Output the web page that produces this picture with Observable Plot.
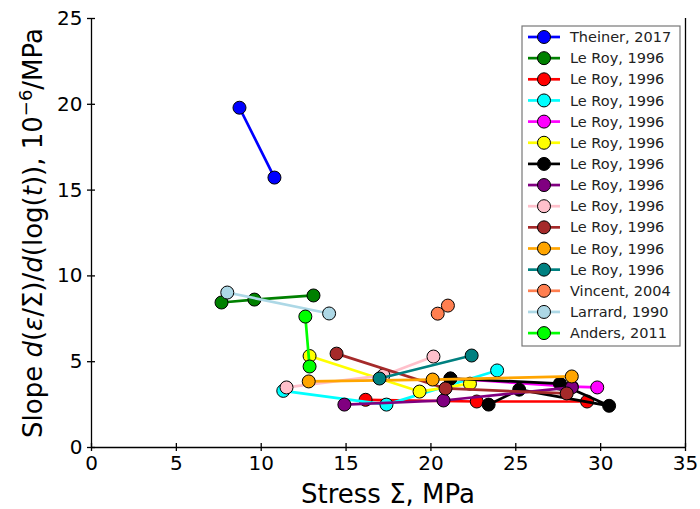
<!DOCTYPE html>
<html>
<head>
<meta charset="utf-8">
<script src="https://cdn.jsdelivr.net/npm/d3@7"></script>
<script src="https://cdn.jsdelivr.net/npm/@observablehq/plot@0.6"></script>
<style>
  html, body { margin: 0; padding: 0; background: #fff; }
  #chart { width: 700px; height: 509px; }
  svg { font-family: "DejaVu Sans", sans-serif; }
</style>
</head>
<body>
<div id="chart"></div>
<script>
const seriesLabels = [
  "Theiner, 2017", "Le Roy, 1996", "Le Roy, 1996", "Le Roy, 1996", "Le Roy, 1996",
  "Le Roy, 1996", "Le Roy, 1996", "Le Roy, 1996", "Le Roy, 1996", "Le Roy, 1996",
  "Le Roy, 1996", "Le Roy, 1996", "Vincent, 2004", "Larrard, 1990", "Anders, 2011"
];
const seriesColors = [
  "blue", "green", "red", "cyan", "magenta", "yellow", "black", "purple",
  "pink", "brown", "orange", "teal", "coral", "lightblue", "lime"
];
const stressValues = [
  [8.72, 10.78],
  [7.66, 9.6, 13.08],
  [16.15, 22.7, 29.2],
  [11.3, 17.38, 23.9],
  [21.15, 28.3, 29.8],
  [12.85, 19.33, 22.3],
  [23.4, 25.2, 30.5, 27.6, 21.15],
  [14.9, 20.74, 28.3],
  [11.49, 17.2, 20.15],
  [14.44, 20.86, 28.0],
  [12.8, 20.1, 28.3],
  [16.97, 22.4],
  [20.4, 21.0],
  [8.0, 14.0],
  [12.6, 12.85]
];
const slopeValues = [
  [19.8, 15.73],
  [8.45, 8.62, 8.86],
  [2.78, 2.68, 2.68],
  [3.3, 2.5, 4.49],
  [4.02, 3.55, 3.5],
  [5.33, 3.26, 3.72],
  [2.5, 3.37, 2.43, 3.72, 4.02],
  [2.5, 2.74, 3.5],
  [3.5, 4.2, 5.3],
  [5.47, 3.44, 3.15],
  [3.85, 3.96, 4.14],
  [4.02, 5.36],
  [7.8, 8.27],
  [9.03, 7.81],
  [7.63, 4.72]
];
const xTicks = [0, 5, 10, 15, 20, 25, 30, 35];
const yTicks = [0, 5, 10, 15, 20, 25];

const marks = [];
seriesLabels.forEach((lab, i) => {
  const pts = stressValues[i].map((x, j) => ({x, y: slopeValues[i][j]}));
  marks.push(Plot.line(pts, {x: "x", y: "y", stroke: seriesColors[i], strokeWidth: 2.7}));
  marks.push(Plot.dot(pts, {x: "x", y: "y", r: 6.5, fill: seriesColors[i], stroke: "black", strokeWidth: 1, fillOpacity: 1}));
});

const plot = Plot.plot({
  width: 700,
  height: 509,
  marginLeft: 91,
  marginRight: 15,
  marginTop: 18,
  marginBottom: 62,
  style: {fontFamily: "DejaVu Sans, sans-serif", fontSize: "20px", color: "#000", background: "#fff", overflow: "visible"},
  x: {domain: [0, 35]},
  y: {domain: [0, 25]},
  marks: [
    ...marks,
    Plot.ruleY([0], {stroke: "black", strokeWidth: 1.3}),
    Plot.ruleX([0], {stroke: "black", strokeWidth: 1.3}),
    Plot.ruleX([35], {stroke: "black", strokeWidth: 1.3}),
    Plot.axisX(xTicks, {tickSize: 8, dy: -4, text: null, label: null, strokeWidth: 1.3}),
    Plot.axisX(xTicks, {tickSize: 0, tickPadding: 8, label: null, fontSize: 20, fill: "#000"}),
    Plot.axisY(yTicks, {tickSize: 8, dx: 4, text: null, label: null, strokeWidth: 1.3}),
    Plot.axisY(yTicks, {tickSize: 0, tickPadding: 9, label: null, fontSize: 20, fill: "#000"})
  ]
});
document.getElementById("chart").appendChild(plot);

const svg = d3.select(plot);
// axis labels
svg.append("text")
  .attr("x", 388).attr("y", 503)
  .attr("text-anchor", "middle")
  .attr("font-size", 26).attr("fill", "#000")
  .text("Stress Σ, MPa");

const yl = svg.append("text")
  .attr("transform", "translate(42,233) rotate(-90)")
  .attr("text-anchor", "middle")
  .attr("font-size", 26).attr("fill", "#000");
yl.append("tspan").text("Slope ");
yl.append("tspan").attr("font-style", "italic").text("d");
yl.append("tspan").text("(");
yl.append("tspan").attr("font-style", "italic").text("ε");
yl.append("tspan").text("/Σ)/");
yl.append("tspan").attr("font-style", "italic").text("d");
yl.append("tspan").text("(log(");
yl.append("tspan").attr("font-style", "italic").text("t");
yl.append("tspan").text(")), 10");
yl.append("tspan").attr("dy", -10).attr("font-size", 18).text("−6");
yl.append("tspan").attr("dy", 10).text("/MPa");

// legend
const lg = svg.append("g").attr("transform", "translate(522,26)");
lg.append("rect").attr("x", 0).attr("y", 0).attr("width", 158).attr("height", 320)
  .attr("fill", "#fff").attr("stroke", "#777").attr("stroke-width", 1.2);
seriesLabels.forEach((lab, i) => {
  const cy = 11 + i * 21.15;
  lg.append("line").attr("x1", 6).attr("x2", 38).attr("y1", cy).attr("y2", cy)
    .attr("stroke", seriesColors[i]).attr("stroke-width", 2.7);
  lg.append("circle").attr("cx", 22).attr("cy", cy).attr("r", 6.5)
    .attr("fill", seriesColors[i]).attr("stroke", "black").attr("stroke-width", 1);
  lg.append("text").attr("x", 48).attr("y", cy).attr("dy", "0.35em")
    .attr("text-anchor", "start")
    .attr("font-size", 14.5).attr("fill", "#222").text(lab);
});
</script>
</body>
</html>
